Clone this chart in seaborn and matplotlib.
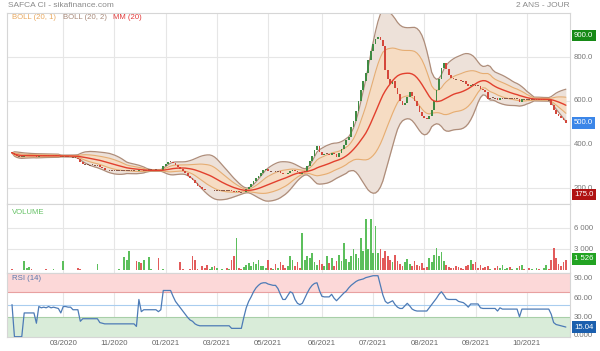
import numpy as np
import pandas as pd
import matplotlib
matplotlib.use("Agg")
import matplotlib.pyplot as plt
import matplotlib.transforms as mtransforms
import seaborn as sns

# ---------------- data ----------------
close = [
    362, 352, 347, 345, 344, 349, 349, 349, 348, 348,
    344, 350, 349, 350, 349, 350, 348, 349, 349, 348,
    344, 347, 345, 345, 343, 342, 340, 336, 318, 310,
    308, 308, 306, 307, 306, 306, 298, 292, 285, 282,
    282, 282, 281, 281, 281, 280, 280, 280, 280, 280,
    280, 279, 286, 282, 283, 283, 284, 284, 283, 284,
    281, 284, 300, 312, 320, 322, 316, 305, 296, 290,
    280, 270, 258, 248, 238, 225, 212, 205, 198, 193,
    192, 192, 192, 191, 191, 191, 191, 191, 190, 190,
    186, 183, 186, 182, 181, 183, 195, 205, 218, 232,
    246, 258, 270, 282, 287, 280, 278, 279, 278, 278,
    272, 266, 263, 272, 280, 284, 278, 276, 266, 274,
    280, 300, 325, 350, 375, 392, 368, 352, 356, 358,
    354, 360, 356, 344, 360, 378, 398, 420, 436, 480,
    510, 555, 600, 650, 690, 727, 790, 830, 860, 885,
    895, 880, 850, 740, 700, 680, 690, 660, 630, 600,
    580, 590, 620, 640, 625, 600, 575, 550, 530, 522,
    518, 530, 560, 600, 650, 700, 750, 775, 745, 720,
    705, 700, 698, 695, 692, 690, 680, 668, 675, 674,
    672, 670, 655, 650, 640, 610, 612, 614, 612, 604,
    612, 612, 612, 613, 612, 612, 611, 611, 595, 608,
    607, 607, 606, 606, 606, 606, 605, 605, 605, 605,
    604, 580, 558, 540, 532, 522, 512, 500,
]
first_open = 368

volume = [
    150, 80, 60, 0, 40, 1350, 300, 500, 200, 0,
    60, 120, 0, 50, 200, 0, 100, 150, 100, 80,
    60, 1350, 50, 0, 40, 0, 60, 300, 150, 0,
    0, 40, 0, 100, 0, 890, 60, 0, 50, 0,
    0, 0, 0, 0, 150, 0, 1880, 1500, 2830, 100,
    0, 1400, 1280, 1140, 1500, 100, 1960, 200, 80, 50,
    1750, 50, 200, 100, 60, 0, 50, 80, 40, 1190,
    200, 60, 0, 150, 2050, 1500, 200, 100, 600, 300,
    800, 200, 500, 700, 300, 100, 200, 100, 300, 150,
    1500, 2000, 4600, 300, 200, 500, 800, 1000, 600, 1200,
    900, 1500, 700, 600, 300, 1500, 400, 200, 900, 300,
    1200, 800, 400, 700, 2000, 1500, 600, 1200, 300, 5400,
    1500, 2000, 1800, 2500, 1200, 800, 1500, 900, 600, 2000,
    1000, 1800, 700, 1300, 2200, 1400, 3900, 1600, 1200, 2000,
    3000, 2400, 1800, 4600, 2800, 7300, 3000, 7300, 2500, 6400,
    2500, 3000, 1800, 2800, 2000, 1500, 1200, 2200, 1400, 900,
    600, 1200, 1600, 900, 700, 1400, 800, 600, 1000, 400,
    500, 1800, 1200, 2200, 3200, 2000, 2600, 1400, 800, 500,
    300, 400, 700, 500, 300, 200, 600, 800, 1500, 900,
    1200, 400, 800, 300, 500, 600, 200, 100, 300, 600,
    400, 800, 200, 300, 500, 200, 100, 300, 600, 800,
    200, 100, 300, 200, 100, 400, 200, 100, 300, 780,
    200, 1500, 3170, 1780, 900, 700, 1260, 1526,
]

rsi = [
    50, 0, 0, 0, 0, 37, 37, 37, 37, 37,
    21, 47, 45, 46, 45, 47, 45, 46, 45, 44,
    37, 47, 47, 46, 46, 42, 42, 42, 24, 28,
    28, 28, 28, 28, 28, 28, 22, 21, 20, 20,
    20, 20, 20, 20, 20, 20, 20, 20, 20, 20,
    20, 16, 58, 39, 42, 42, 42, 42, 42, 42,
    39, 42, 72, 72, 72, 72, 63, 55, 50, 45,
    40, 35, 30, 26, 24, 20, 18, 17, 17, 17,
    17, 17, 17, 17, 17, 17, 17, 17, 17, 17,
    13, 13, 13, 13, 13, 30, 45, 55, 62, 70,
    76, 80, 83, 84, 84, 82, 81, 80, 80, 75,
    66, 58, 58, 64, 70, 68, 58, 52, 50, 52,
    60, 68, 75, 80, 83, 84, 72, 63, 62, 62,
    62, 66, 60, 56, 60, 64, 68, 71, 76, 80,
    83, 86, 88, 89, 90, 92, 93, 94, 95, 95,
    95, 80, 65, 55, 52, 54, 56, 50, 46, 44,
    44, 48, 52, 48, 43, 41, 40, 40, 40, 40,
    40, 45, 50, 55, 60, 66, 70, 65, 59, 58,
    58, 58, 58, 55, 54, 53, 50, 46, 51, 51,
    51, 51, 45, 44, 44, 44, 44, 44, 44, 40,
    45, 43, 43, 43, 43, 43, 43, 43, 31, 43,
    43, 43, 43, 43, 43, 43, 43, 43, 43, 43,
    43, 35, 22, 19, 18, 17, 16, 15.04,
]

tick_pos = [21, 42, 63, 84, 105, 127, 148, 169, 190, 211]
tick_labels = ["03/2020", "11/2020", "01/2021", "03/2021", "05/2021",
               "06/2021", "07/2021", "08/2021", "09/2021", "10/2021"]
price_ticks = [200, 400, 600, 800]
vol_ticks = [3000, 6000]
vol_tick_labels = ["3 000", "6 000"]
rsi_ticks = [90, 60, 30]

# ---------------- style ----------------
sns.set_style("white")
plt.rcParams["font.family"] = ["Liberation Sans", "DejaVu Sans"]

df = pd.DataFrame({"i": np.arange(len(close)), "close": close,
                   "volume": volume, "rsi": rsi})
df["open"] = df["close"].shift(1).fillna(first_open)
roll = df["close"].rolling(20, min_periods=1)
df["mm"] = roll.mean()
sd = roll.std(ddof=0).fillna(0)
df["u1"], df["l1"] = df["mm"] + sd, df["mm"] - sd
df["u2"], df["l2"] = df["mm"] + 2 * sd, df["mm"] - 2 * sd
df["up"] = df["close"] >= df["open"]

W, H = 600, 351
fig = plt.figure(figsize=(W / 100, H / 100), dpi=100)


def ax_rect(x0, y0, x1, y1):
    return [x0 / W, 1 - y1 / H, (x1 - x0) / W, (y1 - y0) / H]


ax1 = fig.add_axes(ax_rect(7, 13.3, 570, 203.5))
ax2 = fig.add_axes(ax_rect(7, 203.5, 570, 272.5), sharex=ax1)
ax3 = fig.add_axes(ax_rect(7, 272.5, 570, 336.7), sharex=ax1)

GRID = "#e6e6e6"
LBL = "#777777"
FS = 5.6

for ax in (ax1, ax2, ax3):
    ax.set_facecolor("white")
    for s in ax.spines.values():
        s.set_color("#d6d6d6")
        s.set_linewidth(0.8)
    ax.set_xticks(tick_pos)
    ax.tick_params(axis="both", length=0)
    ax.set_yticks([])
    for t in tick_pos:
        ax.axvline(t, color=GRID, lw=0.8, zorder=0)
    ax.set_xlim(-2.05, 228.7)

ax1.tick_params(labelbottom=False)
ax2.tick_params(labelbottom=False)
ax3.set_xticklabels(tick_labels, fontsize=FS, color="#666666")
ax3.tick_params(axis="x", pad=2.5)


def rlabel(ax, y, s, color=LBL, bg=None):
    tr = mtransforms.blended_transform_factory(ax.transAxes, ax.transData)
    kw = dict(transform=tr, fontsize=FS, color=color, va="center", ha="left")
    if bg is not None:
        kw["bbox"] = dict(boxstyle="square,pad=0.3", fc=bg, ec="none")
    ax.text(1.0 + 4.0 / 563, y, s, **kw)


# ---------------- main price panel ----------------
ax1.set_ylim(130, 1002)
for p in price_ticks:
    ax1.axhline(p, color=GRID, lw=0.8, zorder=0)

ax1.fill_between(df["i"], df["l2"], df["u2"], color="#ede1d9", lw=0, zorder=1)
ax1.fill_between(df["i"], df["l1"], df["u1"], color="#f6dcc3", lw=0, zorder=1.5)
sns.lineplot(x=df["i"], y=df["u2"], color="#ae8d7a", lw=0.9, ax=ax1, zorder=2)
sns.lineplot(x=df["i"], y=df["l2"], color="#ae8d7a", lw=0.9, ax=ax1, zorder=2)
sns.lineplot(x=df["i"], y=df["u1"], color="#e6ad72", lw=0.8, ax=ax1, zorder=2)
sns.lineplot(x=df["i"], y=df["l1"], color="#e6ad72", lw=0.8, ax=ax1, zorder=2)

body = (df["close"] - df["open"]).abs()
flat = body < 3
bottom = np.minimum(df["open"], df["close"]).where(~flat, df["close"] - 2)
height = body.where(~flat, 4)
ccol = np.where(flat, "#8a5a4a", np.where(df["up"], "#3f8a43", "#d4473b"))
ax1.bar(df["i"], height, bottom=bottom, width=0.72, color=ccol, lw=0, zorder=3)
sns.lineplot(x=df["i"], y=df["mm"], color="#e2402e", lw=1.0, ax=ax1, zorder=4)

ax1.set_xlabel("")
ax1.set_ylabel("")
for p in price_ticks:
    rlabel(ax1, p, f"{p:.1f}")
rlabel(ax1, 900, "900.0", color="white", bg="#168a16")
rlabel(ax1, 500, "500.0", color="white", bg="#3b86e8")
rlabel(ax1, 172, "175.0", color="white", bg="#b01212")

# ---------------- volume panel ----------------
ax2.set_ylim(-286, 9571)
for v in vol_ticks:
    ax2.axhline(v, color=GRID, lw=0.8, zorder=0)
vcol = np.where(df["up"], "#5cbf5c", "#e25b5b")
ax2.bar(df["i"], df["volume"], width=0.72, color=vcol, lw=0, zorder=3)
for v, s in zip(vol_ticks, vol_tick_labels):
    rlabel(ax2, v, s)
rlabel(ax2, 1500, "0.000")
rlabel(ax2, 1526 + 150, "1 526", color="white", bg="#22a322")
ax2.set_xlabel("")
ax2.set_ylabel("")

# ---------------- RSI panel ----------------
ax3.set_ylim(0, 100)
ax3.axhspan(70, 100, color="#fcd8d8", lw=0, zorder=0.5)
ax3.axhspan(0, 30, color="#d9ecd9", lw=0, zorder=0.5)
ax3.axhline(70, color="#e8a0a0", lw=0.8, zorder=1)
ax3.axhline(50, color="#a9cdef", lw=0.8, zorder=1)
ax3.axhline(30, color="#a8cfa8", lw=0.8, zorder=1)
sns.lineplot(x=df["i"], y=df["rsi"], color="#4d7bb6", lw=0.9, ax=ax3, zorder=3)
ax3.set_xlabel("")
ax3.set_ylabel("")
for r in rsi_ticks:
    rlabel(ax3, r, f"{r:.2f}")
rlabel(ax3, 2, "0.000")
rlabel(ax3, 15.04, "15.04", color="white", bg="#1b5fae")


# ---------------- texts ----------------
def ftext(x, y, s, color, ha="left", size=FS):
    fig.text(x / W, 1 - y / H, s, color=color, fontsize=size, ha=ha, va="center")


ftext(8, 5.5, "SAFCA CI - sikafinance.com", "#8a8a8a", size=6.0)
ftext(570, 5.5, "2 ANS - JOUR", "#8a8a8a", ha="right", size=6.0)
ftext(12, 17.5, "BOLL (20, 1)", "#e9a95f")
ftext(63, 17.5, "BOLL (20, 2)", "#a88a7a")
ftext(113, 17.5, "MM (20)", "#e23a3a")
ftext(12, 212, "VOLUME", "#66c266")
ftext(12, 278, "RSI (14)", "#5a78ad")

fig.savefig("out.png", dpi=100)
